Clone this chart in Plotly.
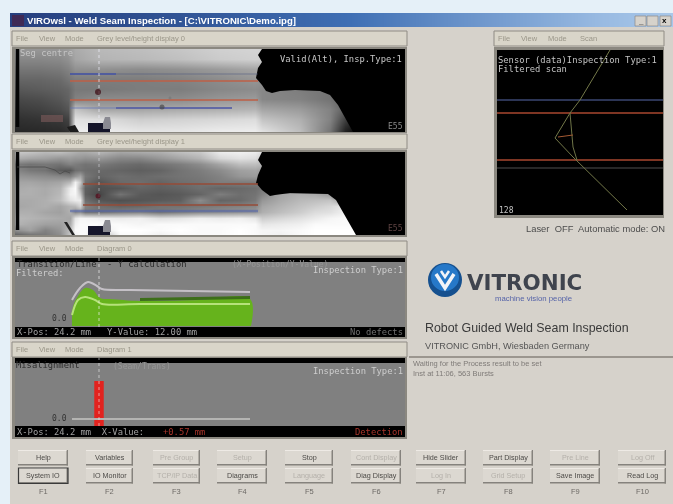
import plotly.graph_objects as go

W, H = 673, 504

# ---------- data ----------
title_gradient = [[0, 0.08, 0.18, 0.3, 0.42, 0.55, 0.68, 0.8, 0.92, 1]]

image1_cols = [0, 25, 45, 53, 60, 85, 125, 165, 205, 240, 247, 285, 315, 330, 345, 390]
image1_rows = [0, 10, 20, 30, 40, 50, 60, 70, 83]
image1_grey = [
    [150, 150, 150, 155, 170, 185, 190, 198, 208, 212, 210, 0, 0, 0, 0, 0],
    [135, 135, 138, 145, 165, 180, 185, 192, 203, 208, 205, 0, 0, 0, 0, 0],
    [118, 118, 122, 130, 145, 145, 140, 145, 155, 165, 165, 0, 0, 0, 0, 0],
    [102, 102, 107, 117, 125, 125, 125, 130, 140, 150, 145, 0, 0, 0, 0, 0],
    [87, 92, 97, 102, 120, 120, 125, 125, 135, 140, 135, 125, 115, 0, 0, 0],
    [72, 77, 87, 97, 130, 140, 140, 140, 150, 155, 135, 130, 115, 95, 30, 0],
    [60, 65, 75, 85, 195, 165, 165, 170, 175, 180, 165, 155, 130, 95, 40, 0],
    [48, 52, 57, 65, 225, 220, 205, 210, 215, 220, 195, 175, 130, 65, 10, 0],
    [38, 40, 42, 48, 238, 238, 232, 232, 238, 238, 228, 190, 115, 30, 0, 0],
]
image2_cols = [0, 15, 30, 45, 55, 60, 65, 70, 85, 105, 125, 145, 165, 185, 205, 225, 240, 247, 265, 285, 300, 315, 330, 345, 390]
image2_rows = [0, 6, 12, 18, 24, 30, 36, 42, 48, 54, 60, 66, 72, 78, 83]
image2_grey = [
    [200, 195, 185, 190, 180, 175, 170, 170, 180, 165, 170, 175, 190, 200, 235, 240, 235, 220, 0, 0, 0, 0, 0, 0, 0],
    [175, 165, 160, 150, 155, 150, 150, 145, 150, 135, 135, 150, 165, 180, 215, 225, 220, 200, 0, 0, 0, 0, 0, 0, 0],
    [125, 115, 120, 115, 130, 125, 120, 115, 120, 110, 105, 115, 125, 140, 165, 190, 190, 180, 0, 0, 0, 0, 0, 0, 0],
    [135, 120, 115, 90, 85, 110, 115, 110, 105, 100, 95, 100, 115, 125, 140, 160, 165, 155, 0, 0, 0, 0, 0, 0, 0],
    [150, 145, 140, 135, 130, 150, 165, 120, 100, 110, 105, 110, 115, 120, 130, 150, 155, 150, 0, 0, 0, 0, 0, 0, 0],
    [165, 165, 160, 165, 185, 240, 200, 110, 85, 105, 110, 100, 110, 115, 125, 125, 125, 130, 0, 0, 0, 0, 0, 0, 0],
    [170, 175, 170, 180, 235, 250, 170, 95, 80, 85, 100, 95, 100, 110, 100, 105, 110, 120, 0, 0, 0, 0, 0, 0, 0],
    [175, 175, 170, 185, 240, 245, 200, 95, 70, 115, 90, 85, 90, 100, 125, 110, 115, 130, 165, 175, 170, 150, 0, 0, 0],
    [170, 170, 175, 190, 225, 235, 235, 110, 85, 80, 85, 90, 95, 140, 100, 105, 120, 150, 170, 185, 190, 195, 150, 0, 0],
    [165, 170, 175, 165, 180, 185, 210, 130, 110, 100, 105, 115, 115, 120, 125, 130, 135, 165, 180, 195, 205, 215, 235, 40, 0],
    [175, 175, 165, 160, 175, 140, 150, 120, 120, 130, 135, 120, 130, 140, 145, 150, 155, 175, 190, 205, 220, 225, 240, 120, 0],
    [185, 180, 175, 170, 165, 230, 245, 245, 240, 235, 240, 225, 230, 240, 235, 240, 230, 205, 215, 225, 235, 245, 250, 240, 0],
    [180, 170, 160, 160, 175, 240, 250, 250, 250, 250, 245, 250, 250, 250, 250, 250, 250, 230, 235, 240, 250, 250, 250, 250, 0],
    [140, 160, 130, 150, 190, 250, 250, 250, 230, 255, 255, 250, 255, 250, 250, 255, 250, 245, 245, 250, 255, 255, 255, 255, 0],
    [95, 110, 120, 140, 200, 240, 250, 250, 170, 250, 250, 240, 250, 250, 250, 255, 250, 245, 240, 250, 255, 255, 255, 255, 0],
]
image1_black_x = [247, 243, 247, 243, 241, 247, 251, 257, 265, 280, 305, 315, 323, 330, 337, 338, 390, 390, 247]
image1_black_y = [0, 6, 13, 19, 29, 36, 42, 44, 42, 41, 42, 46, 56, 69, 81, 83, 83, 0, 0]
image2_black_x = [247, 243, 247, 243, 241, 247, 255, 260, 275, 313, 321, 330, 337, 341, 390, 390, 247]
image2_black_y = [0, 8, 14, 23, 31, 38, 44, 43, 41, 42, 48, 63, 76, 83, 83, 0, 0]

image1_red_y = [32, 51]
image1_blue_y = [25, 59]
image2_red_y = [32, 53]
image2_blue_y = [59]

diag_x = [57, 58, 63, 70, 78, 85, 95, 125, 185, 235, 236]
diag_top = [0, 19, 30, 38, 36, 28, 27, 25, 26, 27, 0]
diag_white_x = [57, 63, 70, 80, 87, 125, 235]
diag_white = [11, 26, 29, 26, 22, 22, 22]
diag_grey_x = [57, 65, 73, 82, 87, 115, 235]
diag_grey = [26, 38, 44, 40, 37, 36, 34]
diag_dark_x = [125, 185, 235]
diag_dark = [26.5, 28, 28.5]

misalign_pos = [84]
misalign_val = [45]
misalign_base_x = [57, 235]
misalign_base_y = [7, 7]

laser_x = [113, 83, 73, 58, 76, 86, 130]
laser_y = [0, 50, 63, 88, 107, 117, 160]
laser2_x = [73, 76, 80]
laser2_y = [63, 97, 110]
laser3_x = [61, 76]
laser3_y = [87, 85]
laser_red_y = [63, 110]
laser_blue_y = [50]
laser_grey_y = [118]

button_lefts = [18, 86, 153, 217, 285, 351, 416, 483, 550, 618]
button_widths = [50, 47, 47, 50, 48, 50, 50, 50, 50, 48]
buttons_top = ["Help", "Variables", "Pre Group", "Setup", "Stop", "Cont Display", "Hide Slider", "Part Display", "Pre Line", "Log Off"]
buttons_bottom = ["System IO", "IO Monitor", "TCP/IP Data", "Diagrams", "Language", "Diag Display", "Log In", "Grid Setup", "Save Image", "Read Log"]
disabled_top = [2, 3, 5, 8, 9]
disabled_bottom = [2, 4, 6, 7]
fkeys = ["F1", "F2", "F3", "F4", "F5", "F6", "F7", "F8", "F9", "F10"]

# ---------- helpers ----------
shapes, annos = [], []
fig = go.Figure()
WIN = "#d6d2cb"


def rect(x0, y0, x1, y1, fill, line=None, lw=1, layer="below"):
    shapes.append(dict(type="rect", xref="paper", yref="paper", x0=x0 / W, x1=x1 / W,
                       y0=1 - y1 / H, y1=1 - y0 / H, fillcolor=fill, layer=layer,
                       line=dict(color=line or fill, width=lw if line else 0)))


def text(x, y, s, size=7.5, color="#ffffff", anchor="left", family="Liberation Sans", bold=False):
    annos.append(dict(xref="paper", yref="paper", x=x / W, y=1 - y / H, text=f"<b>{s}</b>" if bold else s,
                      showarrow=False, xanchor=anchor, yanchor="middle",
                      font=dict(size=size, color=color, family=family), borderpad=0, borderwidth=0))


n_panels = 0


def panel(x0, y0, x1, y1, xr=None, yr=None):
    global n_panels
    n_panels += 1
    s = "" if n_panels == 1 else str(n_panels)
    fig.layout["xaxis" + s] = dict(domain=[x0 / W, x1 / W], range=xr or [0, x1 - x0], visible=False,
                                   anchor="y" + s, fixedrange=True)
    fig.layout["yaxis" + s] = dict(domain=[1 - y1 / H, 1 - y0 / H], range=yr or [y1 - y0, 0], visible=False,
                                   anchor="x" + s, fixedrange=True)
    return "x" + s, "y" + s


def line(xa, ya, xs, ys, color, width=1, dash=None, shape="linear"):
    fig.add_trace(go.Scatter(x=xs, y=ys, xaxis=xa, yaxis=ya, mode="lines", hoverinfo="skip",
                             line=dict(color=color, width=width, dash=dash, shape=shape), showlegend=False))


def fill(xa, ya, xs, ys, color, to=None, shape="linear"):
    fig.add_trace(go.Scatter(x=xs, y=ys, xaxis=xa, yaxis=ya, mode="lines", hoverinfo="skip",
                             fill=to or "toself", fillcolor=color, line=dict(width=0, shape=shape), showlegend=False))


def dots(xa, ya, xs, ys, sizes, colors):
    fig.add_trace(go.Scatter(x=xs, y=ys, xaxis=xa, yaxis=ya, mode="markers", hoverinfo="skip",
                             marker=dict(size=sizes, color=colors, line=dict(width=0)), showlegend=False))


def menubar(x0, y0, x1, label):
    rect(x0, y0, x1, y0 + 15, "#d9d5c9", "#8f8b84", 1)
    text(x0 + 4, y0 + 7.5, "File", 7.5, "#9a9689")
    text(x0 + 27, y0 + 7.5, "View", 7.5, "#9a9689")
    text(x0 + 53, y0 + 7.5, "Mode", 7.5, "#9a9689")
    text(x0 + 85, y0 + 7.5, label, 7.5, "#9a9689")


# ---------- window chrome ----------
rect(0, 0, W, H, "#e5f0f8")
rect(10, 13, W, H, WIN)
xa, ya = panel(10, 13, W, 27, xr=[0, 9], yr=[0, 1])
fig.add_trace(go.Heatmap(z=title_gradient, x=list(range(10)), y=[0.5], xaxis=xa, yaxis=ya, zsmooth="best",
                         showscale=False, hoverinfo="skip", zmin=0, zmax=1,
                         colorscale=[[0, "#27407f"], [0.5, "#3f6fb4"], [1, "#a9c8ea"]]))
rect(12, 15, 24, 26, "#402a55", layer="above")
text(27, 20.5, "VIROwsl - Weld Seam Inspection - [C:\\VITRONIC\\Demo.ipg]", 9.6, "#ffffff", bold=True)
for bx in [635, 647, 660]:
    rect(bx, 16, bx + 11, 26, "#d6d2cb", "#8d8a86", 0.7, layer="above")
text(638, 22, "_", 8, "#000000", bold=True)
text(662, 21, "x", 8, "#000000", bold=True)

menubar(12, 31, 407, "Grey level/height display 0")
menubar(12, 134, 407, "Grey level/height display 1")
menubar(12, 241, 407, "Diagram 0")
menubar(12, 342, 407, "Diagram 1")

rect(12, 47, 407, 133, "#8b8880")
rect(12, 150, 407, 237, "#8b8880")
rect(12, 256, 407, 339, "#8b8880")
rect(12, 357, 407, 439, "#8b8880")

# ---------- grey-level image 0 ----------
xa, ya = panel(15, 49, 405, 132)
fig.add_trace(go.Heatmap(z=image1_grey, x=image1_cols, y=image1_rows, xaxis=xa, yaxis=ya, zsmooth="best",
                         zmin=0, zmax=255, showscale=False, hoverinfo="skip",
                         colorscale=[[0, "#000000"], [1, "#ffffff"]]))
fill(xa, ya, image1_black_x, image1_black_y, "#000000")
line(xa, ya, [2.5, 2.5], [0, 78], "#050505", 3.5)
for yy in image1_red_y:
    line(xa, ya, [55, 243], [yy, yy], "rgba(190,95,70,0.75)", 2)
line(xa, ya, [55, 101], image1_blue_y[:1] * 2, "#3f4fa5", 1.3)
line(xa, ya, [101, 243], image1_blue_y[:1] * 2, "rgba(75,85,125,0.35)", 1.3)
line(xa, ya, [55, 101], image1_blue_y[1:] * 2, "rgba(90,110,190,0.45)", 1.3)
line(xa, ya, [101, 217], image1_blue_y[1:] * 2, "#4a55a5", 1.3)
line(xa, ya, [84, 84], [0, 83], "rgba(235,235,245,0.75)", 1, "dot")
dots(xa, ya, [83, 147, 155], [43, 58, 49], [6, 5, 3], ["#3a0710", "#4a4a4a", "#777777"])
fill(xa, ya, [73, 95, 95, 73, 73], [74, 74, 83, 83, 74], "#15152a")
fill(xa, ya, [88, 90, 95, 96, 96, 88], [74, 68, 68, 74, 80, 80], "#8a8a92")
fill(xa, ya, [26, 48, 48, 26, 26], [66, 66, 73, 73, 66], "rgba(115,85,85,0.7)")
fill(xa, ya, [52, 60, 64, 55], [78, 76, 83, 83], "#1c1c1c")

# ---------- grey-level image 1 ----------
xa, ya = panel(15, 152, 405, 235)
fig.add_trace(go.Heatmap(z=image2_grey, x=image2_cols, y=image2_rows, xaxis=xa, yaxis=ya, zsmooth="best",
                         zmin=0, zmax=255, showscale=False, hoverinfo="skip",
                         colorscale=[[0, "#000000"], [1, "#ffffff"]]))
fill(xa, ya, image2_black_x, image2_black_y, "#000000")
line(xa, ya, [2.5, 2.5], [0, 78], "#050505", 3.5)
for yy in image2_red_y:
    line(xa, ya, [68, 243], [yy, yy], "rgba(150,75,55,0.75)", 2)
line(xa, ya, [55, 243], image2_blue_y * 2, "rgba(75,95,170,0.55)", 2.5)
line(xa, ya, [84, 84], [0, 83], "rgba(235,235,245,0.5)", 1, "dot")
dots(xa, ya, [83], [44], [5], ["#55081a"])
fill(xa, ya, [73, 95, 95, 73, 73], [74, 74, 83, 83, 74], "#15152a")
fill(xa, ya, [88, 90, 95, 96, 96, 88], [74, 68, 68, 74, 80, 80], "#8a8a92")
fill(xa, ya, [49, 52, 60, 57], [70, 70, 83, 83], "#222222")
line(xa, ya, [2, 30, 40, 45, 50, 55], [15, 15, 18, 22, 19, 21], "rgba(70,70,70,0.7)", 1)

# ---------- diagram 0 ----------
xa, ya = panel(15, 258, 405, 337, yr=[-11, 68])
rect(15, 258, 405, 337, "#000000")
rect(15, 262, 405, 327, "#808080")
fill(xa, ya, diag_x, diag_top, "#66b31c", "tozeroy", "spline")
line(xa, ya, diag_dark_x, diag_dark, "#3d6e1a", 3)
line(xa, ya, diag_white_x, diag_white, "#b6e27a", 2, shape="spline")
line(xa, ya, diag_grey_x, diag_grey, "#c4c0c6", 2, shape="spline")
line(xa, ya, [84, 84], [-1, 68], "rgba(240,240,240,0.7)", 1, "dot")

# ---------- diagram 1 ----------
xa, ya = panel(15, 358, 405, 437, yr=[-11, 68])
rect(15, 358, 405, 437, "#000000")
rect(15, 363, 405, 426, "#808080")
fig.add_trace(go.Bar(x=misalign_pos, y=misalign_val, xaxis=xa, yaxis=ya, width=9.5,
                     marker=dict(color="#e2231f", line=dict(width=0)), hoverinfo="skip", showlegend=False))
line(xa, ya, misalign_base_x, misalign_base_y, "#b4b4b2", 2)
line(xa, ya, [84, 84], [0, 68], "rgba(240,240,240,0.6)", 1, "dot")

# ---------- laser section panel ----------
rect(494, 31, 664, 46, "#d9d5c9", "#8f8b84", 1)
text(498, 38.5, "File", 7.5, "#9a9689")
text(521, 38.5, "View", 7.5, "#9a9689")
text(548, 38.5, "Mode", 7.5, "#9a9689")
text(580, 38.5, "Scan", 7.5, "#9a9689")
rect(494, 47, 664, 218, "#8b8880")
rect(497, 50, 663, 215, "#000000")
xa, ya = panel(497, 50, 663, 215)
line(xa, ya, [0, 166], laser_blue_y * 2, "#2c3555", 2)
for yy in laser_red_y:
    line(xa, ya, [0, 166], [yy, yy], "#a9472f", 1.5)
line(xa, ya, [0, 166], laser_grey_y * 2, "#343434", 1.5)
line(xa, ya, laser_x, laser_y, "#737849", 1)
line(xa, ya, laser2_x, laser2_y, "#6e7447", 1)
line(xa, ya, laser3_x, laser3_y, "#a55a33", 1)

# ---------- right column text ----------
text(665, 229, "Laser  OFF  Automatic mode: ON", 9.4, "#4d4d4d", "right")
shapes.append(dict(type="circle", xref="paper", yref="paper", x0=428 / W, x1=462 / W, y0=1 - 297 / H, y1=1 - 263 / H,
                   fillcolor="#15508f", line=dict(width=0), layer="below"))
shapes.append(dict(type="circle", xref="paper", yref="paper", x0=431 / W, x1=459 / W, y0=1 - 291 / H, y1=1 - 264 / H,
                   fillcolor="#2678c8", line=dict(width=0), layer="below"))
xa, ya = panel(428, 263, 462, 297)
line(xa, ya, [8, 17, 26], [11, 25, 11], "#f2f4f8", 3.5)
line(xa, ya, [13, 17, 21], [8, 14, 8], "#f2f4f8", 2.5)
text(467, 282, "VITRONIC", 21.4, "#3f444e", family="DejaVu Sans", bold=True)
text(495, 298.5, "machine vision people", 7.8, "#5563a8")
text(425, 328, "Robot Guided Weld Seam Inspection", 12.4, "#3a3a3a")
text(425, 346, "VITRONIC GmbH, Wiesbaden Germany", 9.2, "#555555")
rect(409, 356, W, 358, "#9b968f")
text(413, 363, "Waiting for the Process result to be set", 7.5, "#7f7b78")
text(413, 373, "Inst at 11:06, 563 Bursts", 7.5, "#7f7b78")

# ---------- buttons ----------
for i, (bx, bw) in enumerate(zip(button_lefts, button_widths)):
    for yy, labels, dis in ((450, buttons_top, disabled_top), (468, buttons_bottom, disabled_bottom)):
        rect(bx, yy, bx + bw, yy + 15, "#dcd8d1")
        rect(bx, yy + 14, bx + bw, yy + 15.5, "#85827d")
        rect(bx + bw - 1.5, yy, bx + bw, yy + 15.5, "#85827d")
        rect(bx, yy, bx + bw - 1.5, yy + 1, "#eeeae5")
        col = "#b4b0aa" if i in dis else "#4c4a47"
        text(bx + bw / 2, yy + 7.5, labels[i], 7.2, col, "center")
    text(button_lefts[i] + bw / 2, 491, fkeys[i], 7.5, "#6d6a66", "center")
rect(18.5, 468, 68, 483.5, "rgba(0,0,0,0)", "#3a3a3a", 1.2)

# ---------- panel captions ----------
mono = "DejaVu Sans Mono"
text(20, 53, "Seg centre", 8.8, "#c4c4c4", family=mono)
text(280, 59, "Valid(Alt), Insp.Type:1", 8.8, "#c8c8c8", family=mono)
text(403, 126, "E55", 8, "#8a8a8a", "right", family=mono)
text(403, 229, "E55", 8, "#5f4444", "right", family=mono)
text(17, 264, "Transition/Line  - Y calculation", 8.8, "#2a2a2a", family=mono)
text(232, 264, "(X-Position/Y-Value)", 8, "#969696", family=mono)
text(16, 272.5, "Filtered:", 8.8, "#cdcdcd", family=mono)
text(403, 270, "Inspection Type:1", 8.8, "#cdcdcd", "right", family=mono)
text(52, 318, "0.0", 8, "#333333", family=mono)
text(17, 332, "X-Pos: 24.2 mm   Y-Value: 12.00 mm", 8.8, "#a2a2a2", family=mono)
text(403, 332, "No defects", 8.8, "#6f6f6f", "right", family=mono)
text(16, 365, "Misalignment", 8.8, "#2a2a2a", family=mono)
text(113, 366, "(Seam/Trans)", 8, "#969696", family=mono)
text(403, 371, "Inspection Type:1", 8.8, "#cdcdcd", "right", family=mono)
text(52, 418, "0.0", 8, "#333333", family=mono)
text(17, 432, "X-Pos: 24.2 mm  X-Value:", 8.8, "#a2a2a2", family=mono)
text(163, 432, "+0.57 mm", 8.8, "#a8342a", family=mono)
text(403, 432, "Detection", 8.8, "#a8342a", "right", family=mono)
text(498, 60, "Sensor (data)Inspection Type:1", 8.8, "#c4c4c4", family=mono)
text(498, 69, "Filtered scan", 8.8, "#c4c4c4", family=mono)
text(499, 210, "128", 8, "#c4c4c4", family=mono)

fig.update_layout(width=W, height=H, margin=dict(l=0, r=0, t=0, b=0), paper_bgcolor="#e5f0f8",
                  plot_bgcolor="rgba(0,0,0,0)", showlegend=False, shapes=shapes, annotations=annos, barmode="overlay")
fig.write_html("out.html", config={"displayModeBar": False},
               post_script="document.body.style.margin='0';document.body.style.background='#d6d2cb';document.querySelectorAll('.main-svg').forEach(function(s){s.style.filter='blur(0.6px)';});")
